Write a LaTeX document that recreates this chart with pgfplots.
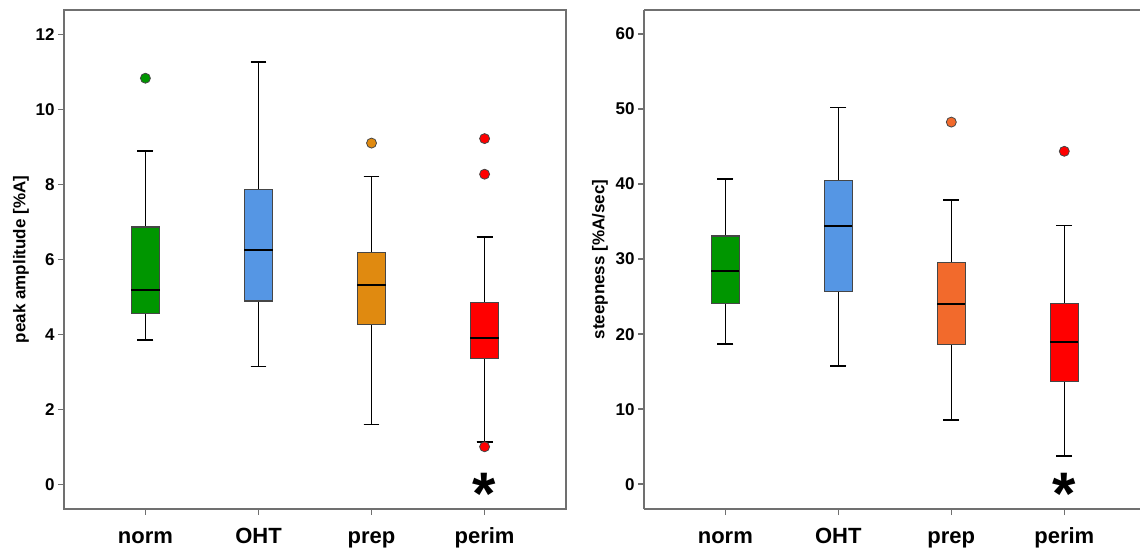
\documentclass[border=0pt]{standalone}
\usepackage{fontspec}
\setmainfont{Liberation Sans}
\usepackage{pgfplots}
\pgfplotsset{compat=1.18}
\usepgfplotslibrary{statistics}
\definecolor{cgreen}{RGB}{0,150,0}
\definecolor{cblue}{RGB}{85,150,228}
\definecolor{corangeA}{RGB}{224,138,16}
\definecolor{corangeB}{RGB}{242,106,44}
\definecolor{cred}{RGB}{255,0,0}
\definecolor{axgray}{RGB}{112,112,112}
\definecolor{boxedge}{RGB}{70,70,70}
\pgfplotsset{
  mystyle/.style={
    scale only axis, height=499pt, xmin=0.28,
    xtick={1,2,3,4}, xticklabels={norm,OHT,prep,perim},
    tick pos=left, tick align=outside, major tick length=6pt,
    tick style={axgray, line width=1.5pt},
    axis line style={axgray, line width=1.8pt},
    x tick label style={font=\fontsize{22}{24}\selectfont\bfseries, anchor=base, yshift=-28pt},
    y tick label style={font=\fontsize{17}{19}\selectfont\bfseries},
    /pgf/number format/assume math mode=true,
    ylabel style={font=\fontsize{17}{19}\selectfont\bfseries, anchor=center},
    clip=false,
    boxplot/draw direction=y,
    boxplot/every box/.style={draw=boxedge, line width=1.2pt},
    boxplot/every whisker/.style={black, line width=1.6pt},
    boxplot/every median/.style={black, line width=2pt},
  },
  bx/.style={draw=black, fill=#1, mark=*, mark size=5pt,
    mark options={fill=#1, draw=boxedge, line width=0.8pt, solid}},
  star/.style={only marks, mark=text, text mark={*}, text mark as node=true,
    text mark style={font=\fontsize{60}{62}\selectfont\bfseries, anchor=base, yshift=-30pt, inner sep=0pt}},
}
\begin{document}
\begin{tikzpicture}
\useasboundingbox (0,0) rectangle (1140pt,551pt);
% ---------------- left panel
\begin{axis}[mystyle, at={(64pt,42pt)}, anchor=south west, width=502pt,
  xmax=4.72, ymin=-0.66, ymax=12.65, ytick={0,2,...,12},
  ylabel={peak amplitude [\%A]},
  ylabel style={at={(axis description cs:-0.0857,0.5)}}]
\addplot[bx=cgreen, boxplot prepared={draw position=1, median=5.17, upper quartile=6.86,
  lower quartile=4.55, upper whisker=8.89, lower whisker=3.84, box extend=0.25, whisker extend=0.14}]
  table[row sep=\\, y index=0]{10.83\\};
\addplot[bx=cblue, boxplot prepared={draw position=2, median=6.26, upper quartile=7.87,
  lower quartile=4.89, upper whisker=11.26, lower whisker=3.14, box extend=0.25, whisker extend=0.14}]
  coordinates {};
\addplot[bx=corangeA, boxplot prepared={draw position=3, median=5.32, upper quartile=6.18,
  lower quartile=4.27, upper whisker=8.21, lower whisker=1.59, box extend=0.25, whisker extend=0.14}]
  table[row sep=\\, y index=0]{9.10\\};
\addplot[bx=cred, boxplot prepared={draw position=4, median=3.89, upper quartile=4.85,
  lower quartile=3.36, upper whisker=6.60, lower whisker=1.13, box extend=0.25, whisker extend=0.14}]
  table[row sep=\\, y index=0]{9.22\\ 8.27\\ 1.00\\};
\addplot[star] coordinates {(4,0)};
\end{axis}
% ---------------- right panel
\begin{axis}[mystyle, at={(644pt,42pt)}, anchor=south west, width=496pt,
  xmax=4.67, ymin=-3.3, ymax=63.2, ytick={0,10,...,60},
  separate axis lines, axis x line*=box, axis y line*=left,
  x axis line style={-}, y axis line style={-},
  ylabel={steepness [\%A/sec]},
  ylabel style={at={(axis description cs:-0.0887,0.5)}}]
\addplot[bx=cgreen, boxplot prepared={draw position=1, median=28.38, upper quartile=33.07,
  lower quartile=24.06, upper whisker=40.7, lower whisker=18.67, box extend=0.25, whisker extend=0.14}]
  coordinates {};
\addplot[bx=cblue, boxplot prepared={draw position=2, median=34.38, upper quartile=40.53,
  lower quartile=25.70, upper whisker=50.19, lower whisker=15.76, box extend=0.25, whisker extend=0.14}]
  coordinates {};
\addplot[bx=corangeB, boxplot prepared={draw position=3, median=24.06, upper quartile=29.50,
  lower quartile=18.67, upper whisker=37.90, lower whisker=8.54, box extend=0.25, whisker extend=0.14}]
  table[row sep=\\, y index=0]{48.26\\};
\addplot[bx=cred, boxplot prepared={draw position=4, median=18.90, upper quartile=24.06,
  lower quartile=13.74, upper whisker=34.47, lower whisker=3.75, box extend=0.25, whisker extend=0.14}]
  table[row sep=\\, y index=0]{44.37\\};
\addplot[star] coordinates {(4,0)};
\end{axis}
\end{tikzpicture}
\end{document}
